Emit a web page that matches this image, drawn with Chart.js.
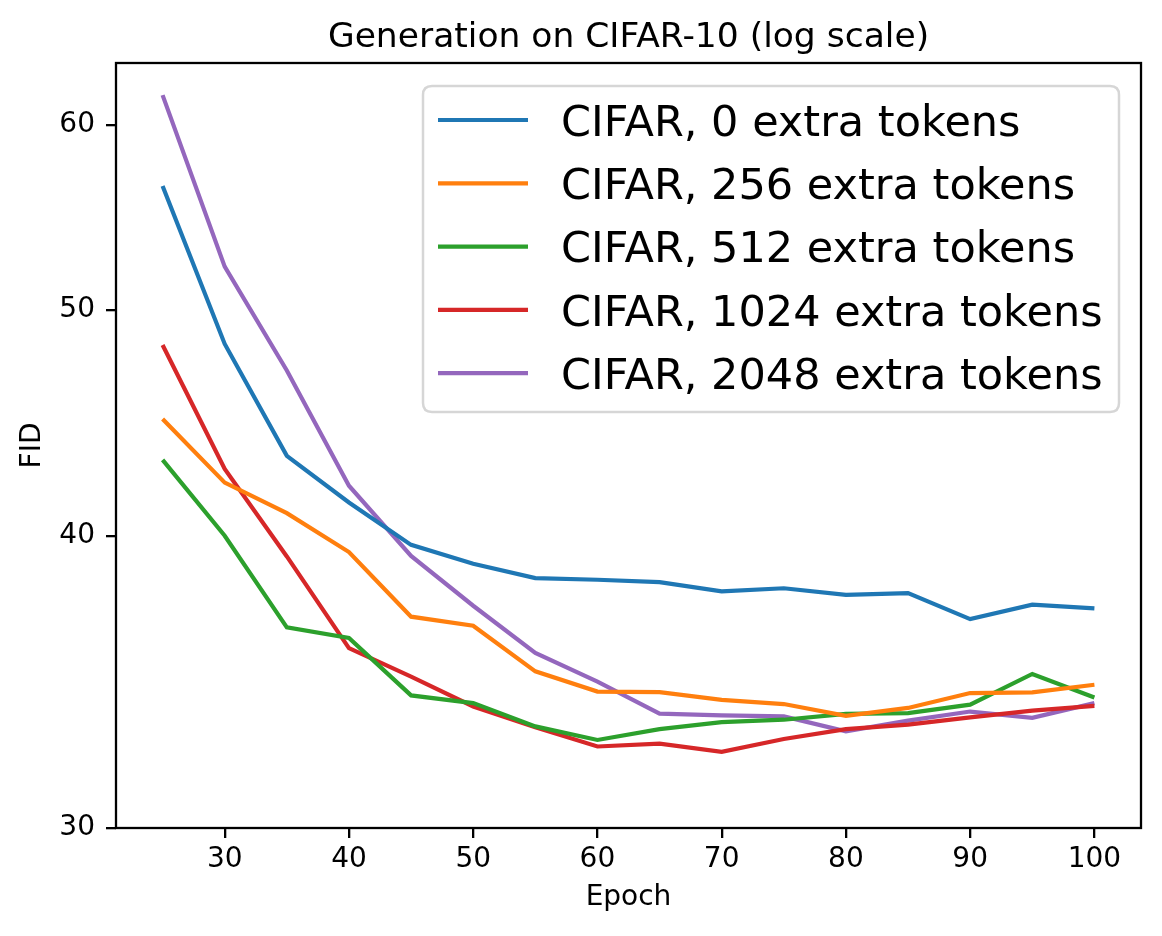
<!DOCTYPE html>
<html>
<head>
<meta charset="utf-8">
<script src="https://cdn.jsdelivr.net/npm/chart.js@4.4.1/dist/chart.umd.min.js"></script>
<style>
  html, body { margin: 0; padding: 0; background: #fff; }
  #wrap { width: 1162px; height: 936px; position: relative; }
</style>
</head>
<body>
<div id="wrap"><canvas id="c"></canvas></div>
<script>
const epochs = [25, 30, 35, 40, 45, 50, 55, 60, 65, 70, 75, 80, 85, 90, 95, 100];
const fid0    = [56.5, 48.35, 43.3, 41.35, 39.66, 38.93, 38.38, 38.32, 38.23, 37.88, 38.0, 37.75, 37.82, 36.86, 37.39, 37.25];
const fid256  = [44.9, 42.17, 40.92, 39.38, 36.95, 36.62, 35.01, 34.32, 34.3, 34.04, 33.9, 33.51, 33.77, 34.27, 34.29, 34.55];
const fid512  = [43.13, 40.02, 36.56, 36.18, 34.19, 33.93, 33.16, 32.72, 33.07, 33.3, 33.38, 33.57, 33.6, 33.88, 34.92, 34.12];
const fid1024 = [48.3, 42.74, 39.21, 35.82, 34.83, 33.82, 33.13, 32.51, 32.6, 32.34, 32.75, 33.07, 33.22, 33.46, 33.68, 33.84];
const fid2048 = [61.79, 52.18, 47.1, 42.04, 39.23, 37.35, 35.65, 34.66, 33.58, 33.52, 33.49, 33.0, 33.35, 33.65, 33.44, 33.93];

const seriesLabels = ["CIFAR, 0 extra tokens", "CIFAR, 256 extra tokens", "CIFAR, 512 extra tokens", "CIFAR, 1024 extra tokens", "CIFAR, 2048 extra tokens"];
const seriesValues = [fid0, fid256, fid512, fid1024, fid2048];
const seriesColors = ["#1f77b4", "#ff7f0e", "#2ca02c", "#d62728", "#9467bd"];

const xTicks = [30, 40, 50, 60, 70, 80, 90, 100];
const yTicks = [30, 40, 50, 60];

const titleText = "Generation on CIFAR-10 (log scale)";
const xLabel = "Epoch";
const yLabel = "FID";

const FONT = "'DejaVu Sans', 'Liberation Sans', sans-serif";

const datasets = seriesValues.map((vals, i) => ({
  label: seriesLabels[i],
  data: epochs.map((e, j) => ({ x: e, y: vals[j] })),
  borderColor: seriesColors[i],
  backgroundColor: seriesColors[i],
  borderWidth: 4.2,
  pointRadius: 0,
  tension: 0,
  fill: false
}));

const framePlugin = {
  id: 'frame',
  afterDatasetsDraw(chart) {
    const { ctx, chartArea: a } = chart;
    ctx.save();
    ctx.strokeStyle = '#000';
    ctx.lineWidth = 2.3;
    ctx.strokeRect(a.left, a.top, a.right - a.left, a.bottom - a.top);
    ctx.restore();
  }
};

function roundRect(ctx, x, y, w, h, r) {
  ctx.beginPath();
  ctx.moveTo(x + r, y);
  ctx.lineTo(x + w - r, y);
  ctx.quadraticCurveTo(x + w, y, x + w, y + r);
  ctx.lineTo(x + w, y + h - r);
  ctx.quadraticCurveTo(x + w, y + h, x + w - r, y + h);
  ctx.lineTo(x + r, y + h);
  ctx.quadraticCurveTo(x, y + h, x, y + h - r);
  ctx.lineTo(x, y + r);
  ctx.quadraticCurveTo(x, y, x + r, y);
  ctx.closePath();
}

const legendPlugin = {
  id: 'innerLegend',
  afterDraw(chart) {
    const { ctx } = chart;
    const bx = 423, by = 86, bw = 696, bh = 326;
    ctx.save();
    roundRect(ctx, bx, by, bw, bh, 9);
    ctx.fillStyle = 'rgba(255,255,255,0.8)';
    ctx.fill();
    ctx.strokeStyle = '#d6d6d6';
    ctx.lineWidth = 2.5;
    ctx.stroke();
    const rows = [120, 183.3, 246.6, 309.9, 373.2];
    ctx.font = "43px " + FONT;
    ctx.textBaseline = 'alphabetic';
    ctx.textAlign = 'left';
    chart.data.datasets.forEach((ds, i) => {
      const y = rows[i];
      ctx.strokeStyle = ds.borderColor;
      ctx.lineWidth = 4.2;
      ctx.beginPath();
      ctx.moveTo(438, y);
      ctx.lineTo(528, y);
      ctx.stroke();
      ctx.fillStyle = '#000';
      ctx.fillText(ds.label, 561, y + 15.7);
    });
    ctx.restore();
  }
};

new Chart(document.getElementById('c'), {
  type: 'line',
  data: { datasets },
  plugins: [framePlugin, legendPlugin],
  options: {
    responsive: true,
    maintainAspectRatio: false,
    animation: false,
    devicePixelRatio: 1,
    layout: { padding: { left: 0, right: 21, top: 0, bottom: 0 } },
    plugins: {
      legend: { display: false },
      tooltip: { enabled: false },
      title: {
        display: true,
        fullSize: false,
        text: titleText,
        color: '#000',
        font: { family: FONT, size: 34.5, weight: 'normal' },
        padding: { top: 17.7, bottom: 3.9 }
      }
    },
    scales: {
      x: {
        type: 'linear',
        min: 21.25,
        max: 103.75,
        afterBuildTicks(scale) { scale.ticks = xTicks.map(v => ({ value: v })); },
        afterFit(scale) { scale.height = 108; scale.paddingLeft = 0; scale.paddingRight = 0; },
        ticks: {
          autoSkip: false, maxRotation: 0, minRotation: 0,
          color: '#000', padding: 5,
          font: { family: FONT, size: 28 },
          callback: v => String(v)
        },
        grid: { drawOnChartArea: false, drawTicks: true, tickLength: 10, color: '#000', lineWidth: 2.3 },
        border: { display: false },
        title: {
          display: true, text: xLabel, color: '#000',
          font: { family: FONT, size: 28 },
          padding: { top: 0, bottom: 21 }
        }
      },
      y: {
        type: 'logarithmic',
        min: 30,
        max: 63.78,
        afterBuildTicks(scale) { scale.ticks = yTicks.map(v => ({ value: v })); },
        afterFit(scale) { scale.width = 116; scale.paddingTop = 0; scale.paddingBottom = 0; },
        ticks: {
          autoSkip: false, color: '#000', padding: 11,
          font: { family: FONT, size: 28 },
          callback: v => String(v)
        },
        grid: { drawOnChartArea: false, drawTicks: true, tickLength: 10, color: '#000', lineWidth: 2.3 },
        border: { display: false },
        title: {
          display: true, text: yLabel, color: '#000',
          font: { family: FONT, size: 28 },
          padding: { top: 16, bottom: 0 }
        }
      }
    }
  }
});
</script>
</body>
</html>
